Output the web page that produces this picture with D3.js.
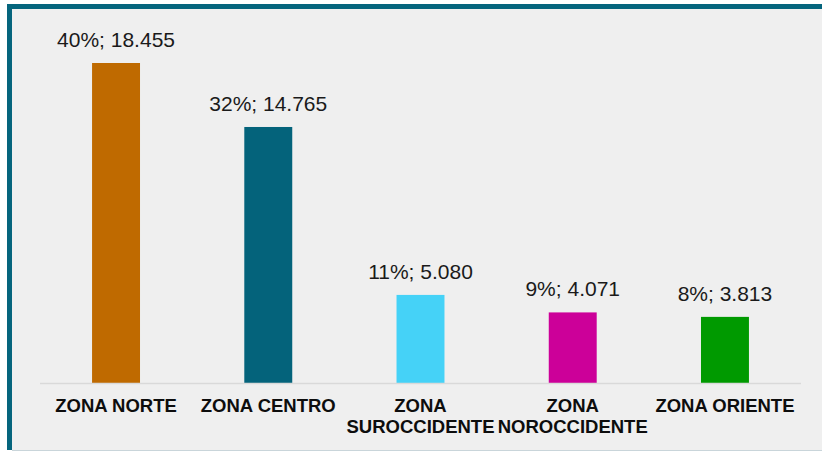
<!DOCTYPE html>
<html>
<head>
<meta charset="utf-8">
<script src="https://cdn.jsdelivr.net/npm/d3@7"></script>
<style>
  body { margin: 0; background: #ffffff; }
  svg text { font-family: "Liberation Sans", Arial, sans-serif; }
</style>
</head>
<body>
<div id="chart"></div>
<script>
// data
const zonas = ["ZONA NORTE", "ZONA CENTRO", "ZONA SUROCCIDENTE", "ZONA NOROCCIDENTE", "ZONA ORIENTE"];
const valores = [18455, 14765, 5080, 4071, 3813];
const porcentajes = ["40%", "32%", "11%", "9%", "8%"];
const etiquetas = ["18.455", "14.765", "5.080", "4.071", "3.813"];
const colores = ["#bf6a00", "#04637b", "#45d2f7", "#cc0099", "#009a00"];

const W = 822, H = 452;

const svg = d3.select("#chart")
  .append("svg")
  .attr("width", W)
  .attr("height", H);

// frame: teal top and left edges, grey fill
svg.append("rect")
  .attr("x", 7).attr("y", 4)
  .attr("width", W).attr("height", 446)
  .attr("fill", "#05657d");
svg.append("rect")
  .attr("x", 12).attr("y", 9)
  .attr("width", W).attr("height", 441)
  .attr("fill", "#efefef");
svg.append("line")
  .attr("x1", 12).attr("x2", W)
  .attr("y1", 450.5).attr("y2", 450.5)
  .attr("stroke", "#c9d5da").attr("stroke-width", 1);

const data = zonas.map((z, i) => ({ zona: z, valor: valores[i], pct: porcentajes[i], txt: etiquetas[i], color: colores[i] }));

const x = d3.scaleBand()
  .domain(zonas)
  .range([40, 801])
  .paddingInner(0.685)
  .paddingOuter(0.342);

const y = d3.scaleLinear()
  .domain([0, 18455])
  .range([383, 63]);

// bars
svg.selectAll(".bar")
  .data(data)
  .join("rect")
  .attr("class", "bar")
  .attr("x", d => x(d.zona))
  .attr("y", d => y(d.valor))
  .attr("width", x.bandwidth())
  .attr("height", d => y(0) - y(d.valor))
  .attr("fill", d => d.color);

// baseline
svg.append("line")
  .attr("x1", 40).attr("x2", 801)
  .attr("y1", y(0) + 0.5).attr("y2", y(0) + 0.5)
  .attr("stroke", "#d9d9d9")
  .attr("stroke-width", 1.5);

// value labels
svg.selectAll(".val")
  .data(data)
  .join("text")
  .attr("class", "val")
  .attr("x", d => x(d.zona) + x.bandwidth() / 2)
  .attr("y", d => y(d.valor) - 16)
  .attr("text-anchor", "middle")
  .attr("font-size", "21px")
  .attr("fill", "#1a1a1a")
  .text(d => d.pct + "; " + d.txt);

// category labels (long ones wrap to two lines)
const cat = svg.selectAll(".cat")
  .data(data)
  .join("text")
  .attr("class", "cat")
  .attr("x", d => x(d.zona) + x.bandwidth() / 2)
  .attr("y", 411.5)
  .attr("text-anchor", "middle")
  .attr("font-size", "18.5px")
  .attr("font-weight", "bold")
  .attr("fill", "#0d0d0d");

cat.each(function(d) {
  const t = d3.select(this);
  const cx = x(d.zona) + x.bandwidth() / 2;
  if (d.zona.length > 13) {
    const parts = d.zona.split(" ");
    t.append("tspan").attr("x", cx).attr("dy", 0).text(parts[0]);
    t.append("tspan").attr("x", cx).attr("dy", 21.7).text(parts.slice(1).join(" "));
  } else {
    t.text(d.zona);
  }
});
</script>
</body>
</html>
